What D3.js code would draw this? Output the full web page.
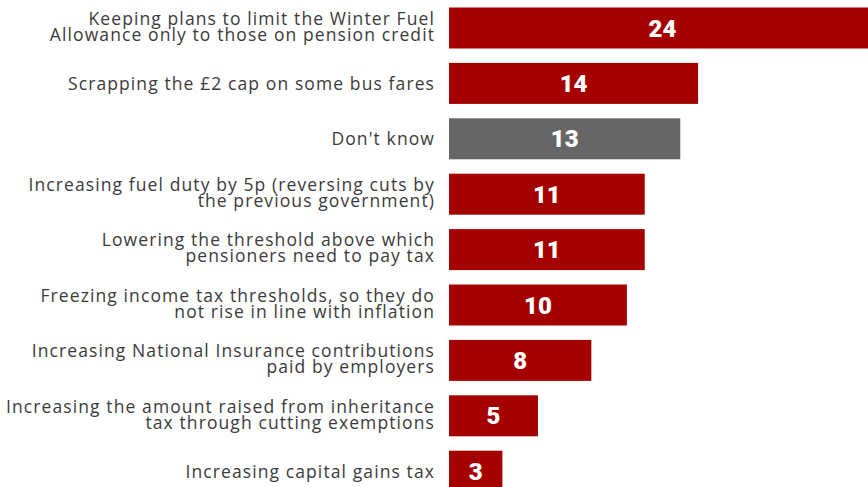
<!DOCTYPE html>
<html>
<head>
<meta charset="utf-8">
<script src="https://cdn.jsdelivr.net/npm/d3@7"></script>
<style>
  html, body { margin: 0; padding: 0; background: #ffffff; }
  svg { display: block; }
</style>
</head>
<body>
<svg id="chart" width="868" height="487"></svg>
<script>
// Survey options, each split into its display lines
const categories = [
  ["Keeping plans to limit the Winter Fuel", "Allowance only to those on pension credit"],
  ["Scrapping the £2 cap on some bus fares"],
  ["Don't know"],
  ["Increasing fuel duty by 5p (reversing cuts by", "the previous government)"],
  ["Lowering the threshold above which", "pensioners need to pay tax"],
  ["Freezing income tax thresholds, so they do", "not rise in line with inflation"],
  ["Increasing National Insurance contributions", "paid by employers"],
  ["Increasing the amount raised from inheritance", "tax through cutting exemptions"],
  ["Increasing capital gains tax"]
];
const values = [24, 14, 13, 11, 11, 10, 8, 5, 3];
const neutral = [false, false, true, false, false, false, false, false, false];

const svg = d3.select("#chart");
const barLeft = 449;
const labelRight = 434;

const x = d3.scaleLinear().domain([0, 24]).range([barLeft, barLeft + 427]);
const y = d3.scaleBand()
  .domain(d3.range(values.length))
  .range([0.3, 498.9])
  .paddingInner(0.26)
  .paddingOuter(0.13);

const rows = svg.append("g").selectAll("g.row")
  .data(values.map((v, i) => ({ v, i, lines: categories[i], grey: neutral[i] })))
  .join("g")
  .attr("class", "row");

rows.append("rect")
  .attr("x", x(0))
  .attr("y", d => y(d.i))
  .attr("width", d => x(d.v) - x(0))
  .attr("height", y.bandwidth())
  .attr("fill", d => d.grey ? "#666666" : "#a50000");

rows.append("text")
  .attr("x", d => (x(0) + x(d.v)) / 2)
  .attr("y", d => y(d.i) + y.bandwidth() / 2 + 8.5)
  .attr("text-anchor", "middle")
  .attr("fill", "#ffffff")
  .attr("font-family", "Roboto, sans-serif")
  .attr("font-weight", 900)
  .attr("font-size", 24)
  .text(d => d.v);

const lineGap = 16;
rows.append("text")
  .attr("text-anchor", "end")
  .attr("fill", "#3b3b3b")
  .attr("font-family", "'Open Sans', sans-serif")
  .attr("font-size", 17.5)
  .attr("letter-spacing", 1.1)
  .each(function (d) {
    const c = y(d.i) + y.bandwidth() / 2;
    const n = d.lines.length;
    const first = c + 6.3 - (n - 1) * lineGap / 2 - (n > 1 ? 1.5 : 0);
    d3.select(this).selectAll("tspan")
      .data(d.lines)
      .join("tspan")
      .attr("x", labelRight + 1)
      .attr("y", (t, k) => first + k * lineGap)
      .text(t => t);
  });
</script>
</body>
</html>
